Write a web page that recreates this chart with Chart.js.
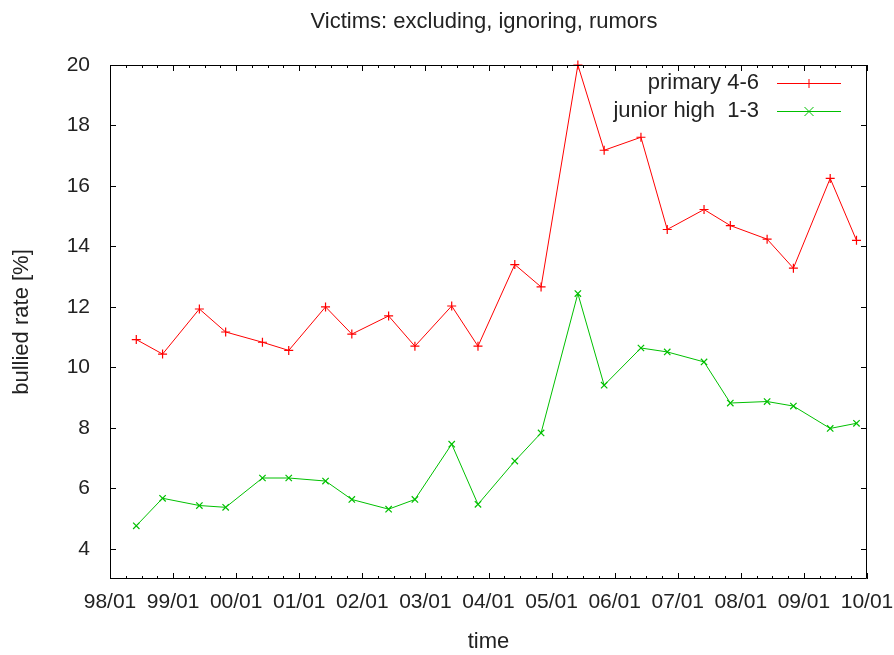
<!DOCTYPE html>
<html>
<head>
<meta charset="utf-8">
<title>Victims: excluding, ignoring, rumors</title>
<script src="https://cdn.jsdelivr.net/npm/chart.js@4.4.1/dist/chart.umd.min.js"></script>
<style>
  html, body { margin: 0; padding: 0; background: #fff; }
  #wrap { width: 894px; height: 655px; }
</style>
</head>
<body>
<div id="wrap"><canvas id="chart" width="894" height="655"></canvas></div>
<script>
// survey dates (YY/MM) and bullied rates [%]
const dates = ['98/06', '98/11', '99/06', '99/11', '00/06', '00/11', '01/06', '01/11',
               '02/06', '02/11', '03/06', '03/11', '04/06', '04/11', '05/06', '05/11',
               '06/06', '06/11', '07/06', '07/11', '08/06', '08/11', '09/06', '09/11'];
const primary = [10.92, 10.44, 11.93, 11.17, 10.83, 10.56, 12.0, 11.1,
                 11.7, 10.7, 12.03, 10.7, 13.4, 12.66, 20.0, 17.18,
                 17.61, 14.56, 15.22, 14.69, 14.24, 13.28, 16.25, 14.2];
const junior = [4.76, 5.67, 5.43, 5.37, 6.34, 6.34, 6.24, 5.63,
                5.31, 5.63, 7.46, 5.47, 6.9, 7.83, 12.44, 9.41,
                10.64, 10.51, 10.18, 8.82, 8.87, 8.72, 7.98, 8.15];
const xTickLabels = ['98/01', '99/01', '00/01', '01/01', '02/01', '03/01', '04/01',
                     '05/01', '06/01', '07/01', '08/01', '09/01', '10/01'];
const yTicks = [4, 6, 8, 10, 12, 14, 16, 18, 20];

const FONT = 'Liberation Sans, Arial, sans-serif';
const TXT = '#222';
const RED = '#ff0000';
const GREEN = '#00c000';

// months since 1998/01
function toMonth(s) {
    const [yy, mm] = s.split('/').map(Number);
    const year = yy >= 50 ? 1900 + yy : 2000 + yy;
    return (year - 1998) * 12 + (mm - 1);
}
const xTickValues = xTickLabels.map(toMonth);

function series(vals) { return vals.map((v, i) => ({ x: toMonth(dates[i]), y: v })); }

function drawMarker(ctx, style, x, y, r) {
    ctx.beginPath();
    if (style === 'cross') {
        ctx.moveTo(x - r, y); ctx.lineTo(x + r, y);
        ctx.moveTo(x, y - r); ctx.lineTo(x, y + r);
    } else {
        ctx.moveTo(x - r, y - r); ctx.lineTo(x + r, y + r);
        ctx.moveTo(x - r, y + r); ctx.lineTo(x + r, y - r);
    }
    ctx.stroke();
}

// gnuplot look: frame, inward ticks on all sides, title and key
const gnuplotFrame = {
    id: 'gnuplotFrame',
    afterDraw(chart) {
        const { ctx, chartArea: a, scales } = chart;
        const xs = scales.x, ys = scales.y;
        ctx.save();
        ctx.strokeStyle = '#000';
        ctx.lineWidth = 1;
        ctx.beginPath();
        ctx.rect(a.left + 0.5, a.top + 0.5, a.right - a.left - 1, a.bottom - a.top - 1);
        ctx.stroke();

        ctx.beginPath();
        ys.ticks.forEach(t => {
            const py = Math.round(ys.getPixelForValue(t.value)) + 0.5;
            ctx.moveTo(a.left, py); ctx.lineTo(a.left + 6, py);
            ctx.moveTo(a.right, py); ctx.lineTo(a.right - 6, py);
        });
        for (let m = xs.min; m <= xs.max; m += 3) {
            const px = Math.round(xs.getPixelForValue(m)) + 0.5;
            const len = m % 12 === 0 ? 6 : 3;
            ctx.moveTo(px, a.bottom); ctx.lineTo(px, a.bottom - len);
            ctx.moveTo(px, a.top); ctx.lineTo(px, a.top + len);
        }
        ctx.stroke();

        ctx.fillStyle = TXT;
        ctx.font = '22px ' + FONT;
        ctx.textAlign = 'center';
        ctx.textBaseline = 'middle';
        ctx.fillText('Victims: excluding, ignoring, rumors', 484, 22);

        // key
        ctx.textAlign = 'right';
        chart.data.datasets.forEach((ds, i) => {
            const ky = 83 + i * 28;
            ctx.fillStyle = TXT;
            ctx.fillText(ds.label, 759, ky);
            ctx.strokeStyle = ds.borderColor;
            ctx.beginPath();
            ctx.moveTo(777, ky + 0.5); ctx.lineTo(841, ky + 0.5);
            ctx.stroke();
            drawMarker(ctx, ds.pointStyle, 809, ky + 0.5, ds.pointRadius);
        });
        ctx.restore();
    }
};

function initChart() {
    const ctx = document.getElementById('chart').getContext('2d');
    new Chart(ctx, {
        type: 'line',
        data: {
            datasets: [
                { label: 'primary 4-6', data: series(primary), borderColor: RED, backgroundColor: RED,
                  borderWidth: 1, pointStyle: 'cross', pointRadius: 4.5, pointBorderWidth: 1.2, clip: false },
                { label: 'junior high  1-3', data: series(junior), borderColor: GREEN, backgroundColor: GREEN,
                  borderWidth: 1, pointStyle: 'crossRot', pointRadius: 4.5, pointBorderWidth: 1.2, clip: false }
            ]
        },
        options: {
            responsive: false,
            animation: false,
            layout: { padding: { top: 65, right: 27, left: 0, bottom: 0 } },
            plugins: { legend: { display: false }, title: { display: false }, tooltip: { enabled: false } },
            scales: {
                x: {
                    type: 'linear', min: 0, max: 144,
                    afterBuildTicks: s => { s.ticks = xTickValues.map(v => ({ value: v })); },
                    afterFit: s => { s.height = 76; s.paddingLeft = 0; s.paddingRight = 0; },
                    grid: { display: false, drawTicks: false },
                    border: { display: false },
                    ticks: { padding: 11, maxRotation: 0, autoSkip: false, color: TXT, font: { family: FONT, size: 21 },
                             callback: v => xTickLabels[xTickValues.indexOf(v)] },
                    title: { display: true, text: 'time', color: TXT, padding: 0, font: { family: FONT, size: 22 } }
                },
                y: {
                    type: 'linear', min: 3, max: 20,
                    afterBuildTicks: s => { s.ticks = yTicks.map(v => ({ value: v })); },
                    afterFit: s => { s.width = 110; s.paddingTop = 0; s.paddingBottom = 0; },
                    grid: { display: false, drawTicks: false },
                    border: { display: false },
                    ticks: { padding: 20, color: TXT, font: { family: FONT, size: 21 } },
                    title: { display: true, text: 'bullied rate [%]', color: TXT, padding: 9, font: { family: FONT, size: 22 } }
                }
            }
        },
        plugins: [gnuplotFrame]
    });
}

window.onload = initChart;
</script>
</body>
</html>
